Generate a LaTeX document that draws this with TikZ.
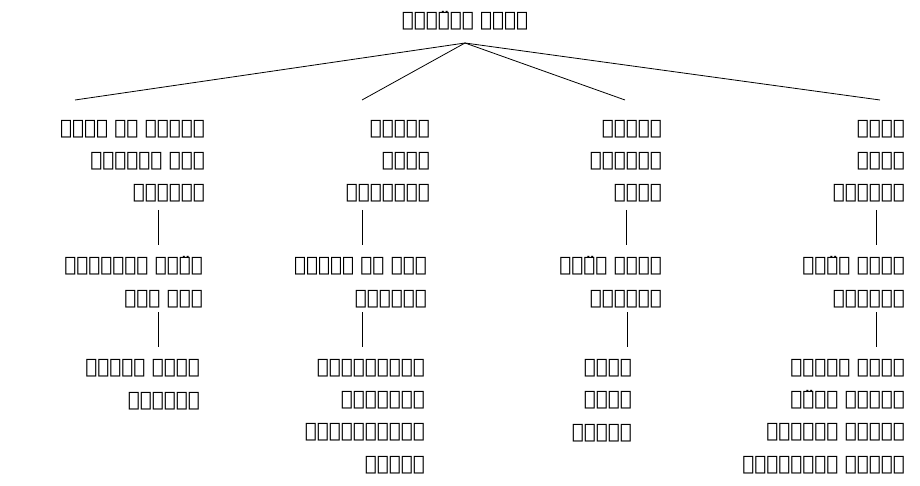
\documentclass[tikz,border=0pt]{standalone}
\usepackage{fontspec}
\newfontfamily\syr{DejaVu Sans}
\TeXXeTstate=1
\newcommand{\rl}[1]{\beginR #1\endR}
\usetikzlibrary{positioning}

\begin{document}
\begin{tikzpicture}[
    x=1pt, y=-1pt,
    block/.style={
        anchor=base east,
        align=right,
        inner sep=0pt,
        font=\syr\fontsize{20}{32.3}\selectfont
    },
    link/.style={
        draw=black,
        line width=0.8pt
    }
]
\useasboundingbox (0,0) rectangle (920,486);

% Title
\node[block, anchor=base] (title) at (465,27) {\rl{ܡܟܢܫ ܕܫܡ̈ܗܬܐ}};

% Top Row: headings (base = last line)
\node[block] (head1) at (905,199) {\rl{ܒܫܡܐ}\\\rl{ܠܚܘܕ}\\\rl{ܡܫܬܘܬܦ}};
\node[block] (head2) at (662,199) {\rl{ܘܡܟܢܫ}\\\rl{ܒܬܚܘܡܐ}\\\rl{ܠܚܘܕ}};
\node[block] (head3) at (430,199) {\rl{ܘܡܟܢܫ}\\\rl{ܒܫܡܐ}\\\rl{ܘܒܬܚܘܡܐ}};
\node[block] (head4) at (205,199) {\rl{ܘܡܟܢܫ ܠܐ ܒܫܡܐ}\\\rl{ܘܠܐ ܒܬܚܘܡܐ}\\\rl{ܡܫܬܘܬܦ}};

% Middle Row: names
\node[block] (name1) at (905,304) {\rl{ܕܡܠܬ ܫܡ̈ܗܐ}\\\rl{ܡܬܩܪܝܢ}};
\node[block] (name2) at (662,304) {\rl{ܕܟܠܬ ܐܒ̈ܢܐ}\\\rl{ܡܬܒܢܝܢ}};
\node[block] (name3) at (427,304) {\rl{ܒܬܠ ܚܕ ܐܕܝܢܐ}\\\rl{ܐܬܬܣܝܡ}};
\node[block] (name4) at (203,304) {\rl{ܫܡ̈ܗܐ ܐܣܓܝܐܬܐ}\\\rl{ܒܟܠ ܡܕܡ}};

% Bottom Row: examples
\node[block] (list1) at (905,470) {\rl{ܟܠܒܐ ܕܝܒܫܐ}\\\rl{ܘܟܠܒܐ ܕܝܡ̈ܐ}\\\rl{ܘܟܠܒܐ ܕܓܢܒܪܐ}\\\rl{ܘܟܠܒܐ ܦܝܠܘܣܘܦܐ}};
\node[block] (list2) at (632,438) {\rl{ܟܐܦܐ}\\\rl{ܘܡܝܐ}\\\rl{ܘܐܪܥܐ}};
\node[block] (list3) at (425,470) {\rl{ܐܠܟܣܢܕܪܘܣ}\\\rl{ܡܩܕܘܢܝܐ}\\\rl{ܘܐܠܟܣܢܕܪܘܣ}\\\rl{ܦܐܪܝܣ}};
\node[block] (list4) at (200,406) {\rl{ܣܝܦܐ ܘܟܐܦܐ}\\\rl{ܘܣܦܣܪܐ}};

% Connections
\draw[link] ([yshift=-16pt]title.base) -- ([xshift=-25pt,yshift=99pt]head1.base east);
\draw[link] ([yshift=-16pt]title.base) -- ([xshift=-37pt,yshift=99pt]head2.base east);
\draw[link] ([yshift=-16pt]title.base) -- ([xshift=-68pt,yshift=99pt]head3.base east);
\draw[link] ([yshift=-16pt]title.base) -- ([xshift=-130pt,yshift=99pt]head4.base east);

\draw[link] ([xshift=-29pt,yshift=-11pt]head1.base east) -- ([xshift=-29pt,yshift=59pt]name1.base east);
\draw[link] ([xshift=-36pt,yshift=-11pt]head2.base east) -- ([xshift=-36pt,yshift=59pt]name2.base east);
\draw[link] ([xshift=-68pt,yshift=-11pt]head3.base east) -- ([xshift=-65pt,yshift=59pt]name3.base east);
\draw[link] ([xshift=-47pt,yshift=-11pt]head4.base east) -- ([xshift=-45pt,yshift=59pt]name4.base east);

\draw[link] ([xshift=-29pt,yshift=-8pt]name1.base east) -- ([xshift=-29pt,yshift=123pt]list1.base east);
\draw[link] ([xshift=-35pt,yshift=-8pt]name2.base east) -- ([xshift=-5pt,yshift=91pt]list2.base east);
\draw[link] ([xshift=-65pt,yshift=-8pt]name3.base east) -- ([xshift=-63pt,yshift=123pt]list3.base east);
\draw[link] ([xshift=-45pt,yshift=-8pt]name4.base east) -- ([xshift=-42pt,yshift=59pt]list4.base east);

\end{tikzpicture}
\end{document}
